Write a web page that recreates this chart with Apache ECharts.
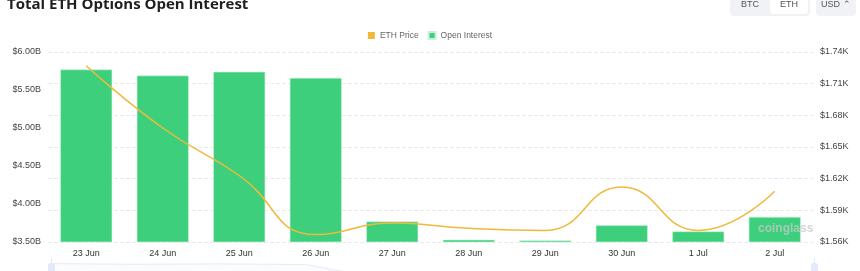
<!DOCTYPE html>
<html>
<head>
<meta charset="utf-8">
<script src="https://cdn.jsdelivr.net/npm/echarts@6/dist/echarts.min.js"></script>
<style>
  html, body { margin: 0; padding: 0; background: #fff; }
  #main { width: 860px; height: 271px; }
</style>
</head>
<body>
<div id="main"></div>
<script>
// values
const dates = ['23 Jun', '24 Jun', '25 Jun', '26 Jun', '27 Jun', '28 Jun', '29 Jun', '30 Jun', '1 Jul', '2 Jul'];
const openInterest = [5.77, 5.69, 5.74, 5.66, 3.77, 3.53, 3.52, 3.72, 3.64, 3.83]; // billions USD
const ethPrice = [1727, 1668, 1623, 1567, 1578, 1573, 1571, 1612, 1571, 1608];    // USD

const chart = echarts.init(document.getElementById('main'));

const option = {
    animation: false,
    title: {
        text: 'Total ETH Options Open Interest',
        left: 2,
        top: -8,
        textStyle: { fontSize: 15, fontWeight: 'bold', color: '#1f1f1f', fontFamily: 'Open Sans' }
    },
    legend: {
        top: 26,
        left: 'center',
        itemWidth: 7,
        itemHeight: 7,
        itemGap: 9,
        icon: 'rect',
        textStyle: { fontSize: 8.5, color: '#666' },
        data: ['ETH Price', 'Open Interest']
    },
    grid: { left: 48, right: 47, top: 52, bottom: 29 },
    xAxis: {
        type: 'category',
        data: dates,
        axisLine: { show: false },
        axisTick: { show: false },
        axisLabel: { fontSize: 9, color: '#333', margin: 7 }
    },
    yAxis: [
        {
            type: 'value',
            min: 3.5,
            max: 6,
            interval: 0.5,
            splitLine: { show: false },
            axisLabel: {
                fontSize: 9, color: '#444', margin: 7,
                formatter: v => '$' + v.toFixed(2) + 'B'
            }
        },
        {
            type: 'value',
            min: 1560,
            max: 1740,
            interval: 30,
            position: 'right',
            splitLine: { lineStyle: { type: 'dashed', color: '#ebebeb' } },
            axisLabel: {
                fontSize: 9, color: '#444', margin: 7,
                formatter: v => '$' + (v / 1000).toFixed(2) + 'K'
            }
        }
    ],
    dataZoom: [{
        type: 'slider',
        top: 258,
        height: 30,
        left: 48,
        right: 47,
        borderColor: 'transparent',
        backgroundColor: 'transparent',
        showDetail: false,
        brushSelect: false,
        fillerColor: 'rgba(0,0,0,0)',
        handleStyle: { color: '#e4eafb', borderColor: '#e4eafb' },
        moveHandleSize: 0,
        dataBackground: {
            lineStyle: { color: '#d3ddf7', width: 0.6 },
            areaStyle: { color: '#f2f5fd' }
        },
        selectedDataBackground: {
            lineStyle: { color: '#d3ddf7', width: 0.6 },
            areaStyle: { color: '#f2f5fd' }
        }
    }],
    series: [
        {
            name: 'Open Interest',
            type: 'bar',
            yAxisIndex: 0,
            data: openInterest,
            barWidth: 52,
            itemStyle: { color: '#3ecf7c', borderColor: '#c9f1da', borderWidth: 0.6 },
            z: 2
        },
        {
            name: 'ETH Price',
            type: 'line',
            yAxisIndex: 1,
            data: ethPrice,
            smooth: true,
            showSymbol: false,
            lineStyle: { color: '#f0b93b', width: 1.5 },
            itemStyle: { color: '#f0b93b' },
            z: 3
        }
    ],
    graphic: [
        { type: 'rect', shape: { x: 730, y: -6, width: 80, height: 22, r: 4 }, style: { fill: '#f0f2f5' } },
        { type: 'rect', shape: { x: 770, y: -6, width: 38, height: 20, r: 4 }, style: { fill: '#ffffff' } },
        { type: 'text', style: { x: 750, y: 5, text: 'BTC', fontSize: 9, fill: '#555', align: 'center', verticalAlign: 'middle' } },
        { type: 'text', style: { x: 789, y: 5, text: 'ETH', fontSize: 9, fill: '#555', align: 'center', verticalAlign: 'middle' } },
        { type: 'rect', shape: { x: 816, y: -6, width: 40, height: 22, r: 4 }, style: { fill: '#f0f2f5' } },
        { type: 'text', style: { x: 821, y: 5, text: 'USD ⌃', fontSize: 9, fill: '#555', verticalAlign: 'middle' } },
        { type: 'text', z: 10, style: { x: 758, y: 229, text: 'coinglass', fontSize: 12, fontWeight: 'bold', fill: 'rgba(200,200,200,0.75)', verticalAlign: 'middle' } }
    ]
};

chart.setOption(option);
</script>
</body>
</html>
